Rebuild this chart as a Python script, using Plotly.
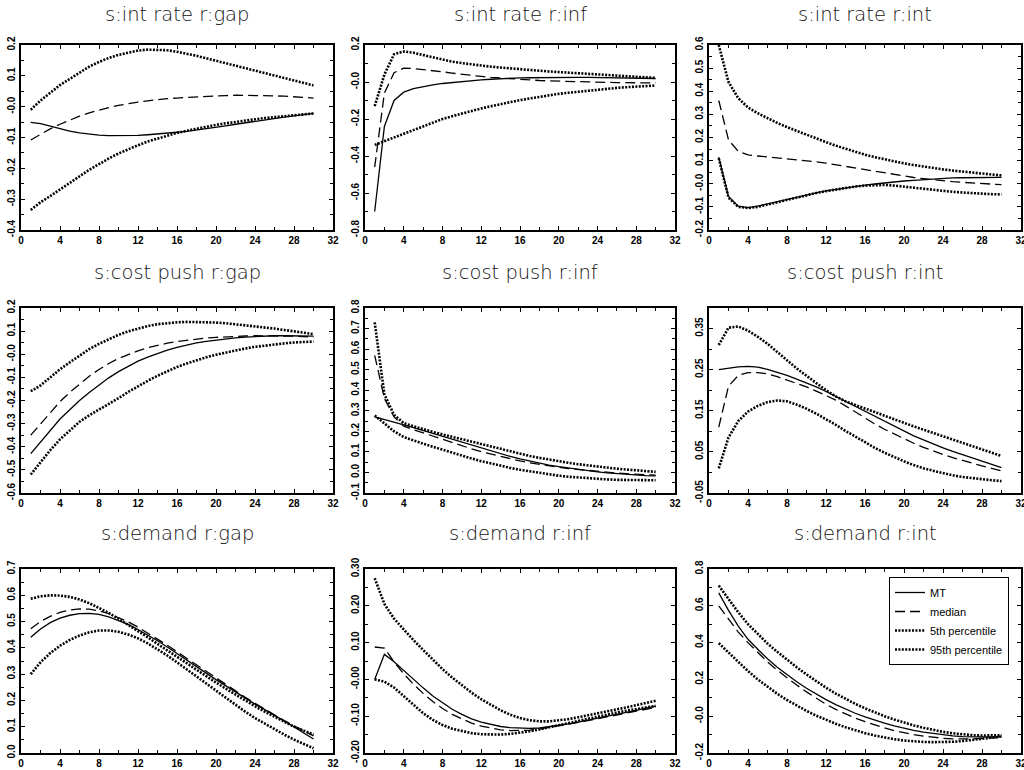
import plotly.graph_objects as go

# ---------------- data ----------------
horizon = list(range(1, 31))

panel_titles = ["s:int rate r:gap", "s:int rate r:inf", "s:int rate r:int",
                "s:cost push r:gap", "s:cost push r:inf", "s:cost push r:int",
                "s:demand r:gap", "s:demand r:inf", "s:demand r:int"]

series_names = ["MT", "median", "5th percentile", "95th percentile"]

# s:int rate r:gap
ir_gap_mt = [-0.051, -0.055, -0.063, -0.072, -0.079, -0.085, -0.089, -0.092, -0.094, -0.094,
             -0.094, -0.093, -0.091, -0.089, -0.086, -0.083, -0.080, -0.076, -0.072, -0.067,
             -0.062, -0.057, -0.052, -0.047, -0.042, -0.038, -0.034, -0.030, -0.026, -0.022]
ir_gap_med = [-0.108, -0.090, -0.072, -0.057, -0.043, -0.031, -0.020, -0.011, -0.003, 0.004,
              0.010, 0.015, 0.019, 0.023, 0.026, 0.028, 0.030, 0.032, 0.034, 0.035,
              0.036, 0.037, 0.037, 0.037, 0.036, 0.035, 0.034, 0.032, 0.030, 0.028]
ir_gap_p5 = [-0.335, -0.310, -0.290, -0.268, -0.247, -0.226, -0.205, -0.186, -0.168, -0.152,
             -0.138, -0.125, -0.113, -0.103, -0.094, -0.085, -0.078, -0.071, -0.065, -0.059,
             -0.054, -0.049, -0.045, -0.041, -0.037, -0.034, -0.031, -0.028, -0.025, -0.022]
ir_gap_p95 = [-0.010, 0.020, 0.045, 0.070, 0.090, 0.110, 0.130, 0.145, 0.158, 0.168,
              0.176, 0.182, 0.185, 0.185, 0.183, 0.178, 0.172, 0.165, 0.157, 0.149,
              0.141, 0.133, 0.125, 0.117, 0.109, 0.101, 0.093, 0.085, 0.077, 0.069]

# s:int rate r:inf
ir_inf_mt = [-0.700, -0.240, -0.100, -0.055, -0.036, -0.024, -0.015, -0.008, -0.002, 0.003,
             0.008, 0.012, 0.015, 0.018, 0.020, 0.022, 0.023, 0.024, 0.025, 0.025,
             0.025, 0.025, 0.025, 0.024, 0.024, 0.023, 0.022, 0.021, 0.020, 0.019]
ir_inf_med = [-0.460, -0.060, 0.050, 0.075, 0.073, 0.068, 0.062, 0.055, 0.048, 0.041,
              0.035, 0.030, 0.025, 0.021, 0.017, 0.013, 0.010, 0.008, 0.006, 0.004,
              0.002, 0.001, 0.000, -0.001, -0.002, -0.003, -0.004, -0.004, -0.005, -0.005]
ir_inf_p5 = [-0.340, -0.320, -0.298, -0.277, -0.257, -0.237, -0.218, -0.200, -0.185, -0.170,
             -0.156, -0.143, -0.131, -0.119, -0.108, -0.098, -0.089, -0.080, -0.072, -0.064,
             -0.058, -0.052, -0.046, -0.041, -0.036, -0.032, -0.028, -0.025, -0.022, -0.019]
ir_inf_p95 = [-0.130, 0.040, 0.150, 0.165, 0.158, 0.145, 0.132, 0.120, 0.110, 0.102,
              0.095, 0.089, 0.083, 0.078, 0.073, 0.069, 0.065, 0.061, 0.057, 0.054,
              0.050, 0.047, 0.044, 0.041, 0.038, 0.035, 0.032, 0.029, 0.026, 0.022]

# s:int rate r:int
ir_int_mt = [0.115, -0.055, -0.097, -0.103, -0.097, -0.087, -0.077, -0.067, -0.057, -0.048,
             -0.039, -0.031, -0.024, -0.017, -0.011, -0.006, -0.001, 0.004, 0.008, 0.012,
             0.015, 0.018, 0.021, 0.023, 0.025, 0.026, 0.027, 0.028, 0.028, 0.028]
ir_int_med = [0.360, 0.190, 0.140, 0.125, 0.120, 0.116, 0.113, 0.109, 0.105, 0.100,
              0.095, 0.089, 0.082, 0.075, 0.068, 0.060, 0.053, 0.046, 0.039, 0.033,
              0.027, 0.022, 0.017, 0.013, 0.009, 0.006, 0.003, 0.000, -0.002, -0.004]
ir_int_p5 = [0.110, -0.060, -0.100, -0.105, -0.100, -0.090, -0.079, -0.068, -0.058, -0.049,
             -0.040, -0.032, -0.025, -0.018, -0.012, -0.008, -0.005, -0.005, -0.008, -0.013,
             -0.018, -0.023, -0.027, -0.031, -0.035, -0.038, -0.041, -0.043, -0.045, -0.046]
ir_int_p95 = [0.600, 0.440, 0.370, 0.330, 0.305, 0.283, 0.263, 0.245, 0.228, 0.211,
              0.195, 0.180, 0.165, 0.151, 0.138, 0.126, 0.115, 0.105, 0.096, 0.088,
              0.081, 0.074, 0.068, 0.062, 0.057, 0.052, 0.048, 0.044, 0.040, 0.036]

# s:cost push r:gap
cp_gap_mt = [-0.430, -0.380, -0.330, -0.280, -0.240, -0.200, -0.165, -0.132, -0.102, -0.075,
             -0.051, -0.030, -0.012, 0.004, 0.018, 0.030, 0.040, 0.049, 0.056, 0.062,
             0.067, 0.071, 0.074, 0.077, 0.079, 0.080, 0.080, 0.080, 0.079, 0.078]
cp_gap_med = [-0.350, -0.300, -0.250, -0.205, -0.165, -0.128, -0.095, -0.066, -0.040, -0.018,
              0.000, 0.015, 0.028, 0.039, 0.048, 0.055, 0.061, 0.066, 0.070, 0.073,
              0.076, 0.078, 0.079, 0.080, 0.080, 0.080, 0.079, 0.078, 0.076, 0.074]
cp_gap_p5 = [-0.520, -0.465, -0.415, -0.368, -0.328, -0.292, -0.264, -0.240, -0.215, -0.190,
             -0.163, -0.138, -0.115, -0.093, -0.073, -0.055, -0.040, -0.026, -0.013, -0.002,
             0.008, 0.017, 0.025, 0.032, 0.038, 0.043, 0.047, 0.051, 0.053, 0.055]
cp_gap_p95 = [-0.160, -0.135, -0.100, -0.065, -0.035, -0.005, 0.022, 0.045, 0.066, 0.084,
              0.099, 0.112, 0.122, 0.130, 0.135, 0.138, 0.140, 0.140, 0.139, 0.137,
              0.134, 0.130, 0.126, 0.121, 0.116, 0.111, 0.105, 0.099, 0.093, 0.087]

# s:cost push r:inf
cp_inf_mt = [0.270, 0.258, 0.245, 0.232, 0.218, 0.204, 0.190, 0.176, 0.161, 0.146,
             0.131, 0.117, 0.103, 0.090, 0.078, 0.066, 0.055, 0.045, 0.036, 0.028,
             0.021, 0.014, 0.008, 0.003, -0.002, -0.006, -0.009, -0.012, -0.015, -0.017]
cp_inf_med = [0.570, 0.360, 0.270, 0.225, 0.208, 0.192, 0.176, 0.160, 0.144, 0.129,
              0.115, 0.101, 0.089, 0.077, 0.066, 0.056, 0.047, 0.039, 0.032, 0.025,
              0.019, 0.014, 0.009, 0.005, 0.001, -0.003, -0.006, -0.009, -0.011, -0.013]
cp_inf_p5 = [0.277, 0.240, 0.200, 0.172, 0.155, 0.140, 0.125, 0.110, 0.096, 0.082,
             0.068, 0.055, 0.043, 0.032, 0.022, 0.013, 0.005, -0.003, -0.010, -0.016,
             -0.021, -0.025, -0.029, -0.032, -0.034, -0.036, -0.037, -0.038, -0.038, -0.038]
cp_inf_p95 = [0.730, 0.380, 0.280, 0.240, 0.225, 0.210, 0.197, 0.185, 0.173, 0.161,
              0.149, 0.137, 0.125, 0.113, 0.101, 0.090, 0.080, 0.071, 0.062, 0.054,
              0.047, 0.040, 0.034, 0.028, 0.023, 0.018, 0.014, 0.010, 0.006, 0.003]

# s:cost push r:int
cp_int_mt = [0.250, 0.254, 0.257, 0.258, 0.256, 0.251, 0.244, 0.236, 0.227, 0.218,
             0.208, 0.197, 0.185, 0.172, 0.159, 0.147, 0.135, 0.123, 0.111, 0.100,
             0.089, 0.079, 0.069, 0.060, 0.051, 0.043, 0.035, 0.027, 0.020, 0.012]
cp_int_med = [0.110, 0.210, 0.236, 0.243, 0.243, 0.240, 0.233, 0.225, 0.217, 0.208,
              0.198, 0.188, 0.176, 0.162, 0.147, 0.132, 0.118, 0.105, 0.093, 0.081,
              0.071, 0.061, 0.052, 0.044, 0.036, 0.029, 0.022, 0.016, 0.010, 0.004]
cp_int_p5 = [0.010, 0.085, 0.125, 0.148, 0.162, 0.171, 0.175, 0.173, 0.165, 0.155,
             0.143, 0.130, 0.116, 0.101, 0.087, 0.073, 0.060, 0.048, 0.037, 0.027,
             0.018, 0.010, 0.004, -0.002, -0.007, -0.011, -0.014, -0.017, -0.019, -0.021]
cp_int_p95 = [0.310, 0.352, 0.355, 0.345, 0.330, 0.313, 0.293, 0.272, 0.253, 0.235,
              0.217, 0.200, 0.185, 0.173, 0.164, 0.156, 0.147, 0.138, 0.129, 0.121,
              0.112, 0.104, 0.096, 0.088, 0.080, 0.072, 0.064, 0.056, 0.048, 0.040]

# s:demand r:gap
dm_gap_mt = [0.440, 0.472, 0.496, 0.513, 0.524, 0.530, 0.531, 0.527, 0.518, 0.505,
             0.489, 0.470, 0.449, 0.427, 0.403, 0.379, 0.354, 0.329, 0.304, 0.279,
             0.255, 0.231, 0.208, 0.186, 0.165, 0.144, 0.122, 0.100, 0.076, 0.053]
dm_gap_med = [0.473, 0.500, 0.520, 0.535, 0.544, 0.548, 0.547, 0.541, 0.530, 0.516,
              0.499, 0.479, 0.457, 0.434, 0.410, 0.385, 0.360, 0.335, 0.310, 0.285,
              0.260, 0.236, 0.212, 0.189, 0.166, 0.144, 0.123, 0.103, 0.083, 0.065]
dm_gap_p5 = [0.300, 0.345, 0.380, 0.408, 0.430, 0.447, 0.459, 0.466, 0.466, 0.461,
             0.451, 0.436, 0.417, 0.395, 0.371, 0.345, 0.318, 0.291, 0.263, 0.235,
             0.208, 0.182, 0.157, 0.133, 0.111, 0.090, 0.070, 0.051, 0.034, 0.018]
dm_gap_p95 = [0.587, 0.596, 0.600, 0.599, 0.594, 0.584, 0.570, 0.553, 0.533, 0.511,
              0.488, 0.464, 0.440, 0.415, 0.390, 0.365, 0.340, 0.316, 0.292, 0.268,
              0.245, 0.222, 0.200, 0.178, 0.157, 0.137, 0.118, 0.100, 0.085, 0.070]

# s:demand r:inf
dm_inf_mt = [0.000, 0.068, 0.048, 0.024, 0.000, -0.023, -0.045, -0.064, -0.081, -0.095,
             -0.107, -0.116, -0.123, -0.128, -0.131, -0.133, -0.133, -0.132, -0.129, -0.125,
             -0.121, -0.116, -0.111, -0.106, -0.100, -0.095, -0.089, -0.084, -0.078, -0.073]
dm_inf_med = [0.088, 0.085, 0.048, 0.015, -0.013, -0.038, -0.060, -0.079, -0.095, -0.108,
              -0.119, -0.127, -0.133, -0.137, -0.139, -0.139, -0.138, -0.135, -0.131, -0.127,
              -0.122, -0.117, -0.112, -0.107, -0.101, -0.096, -0.091, -0.086, -0.081, -0.076]
dm_inf_p5 = [0.000, -0.006, -0.022, -0.045, -0.070, -0.092, -0.110, -0.124, -0.134, -0.141,
             -0.146, -0.149, -0.150, -0.150, -0.148, -0.145, -0.141, -0.136, -0.130, -0.124,
             -0.118, -0.112, -0.106, -0.100, -0.095, -0.090, -0.085, -0.080, -0.076, -0.072]
dm_inf_p95 = [0.275, 0.205, 0.165, 0.135, 0.107, 0.080, 0.053, 0.028, 0.005, -0.016,
              -0.036, -0.054, -0.070, -0.084, -0.096, -0.105, -0.111, -0.114, -0.114, -0.112,
              -0.108, -0.103, -0.098, -0.093, -0.087, -0.082, -0.076, -0.070, -0.064, -0.058]

# s:demand r:int
dm_int_mt = [0.670, 0.575, 0.490, 0.418, 0.364, 0.312, 0.266, 0.225, 0.187, 0.152,
             0.120, 0.090, 0.063, 0.038, 0.016, -0.004, -0.022, -0.038, -0.053, -0.066,
             -0.077, -0.087, -0.095, -0.102, -0.107, -0.111, -0.113, -0.114, -0.113, -0.111]
dm_int_med = [0.600, 0.525, 0.457, 0.400, 0.345, 0.295, 0.250, 0.208, 0.169, 0.132,
              0.097, 0.065, 0.037, 0.012, -0.010, -0.030, -0.048, -0.064, -0.078, -0.090,
              -0.100, -0.108, -0.115, -0.120, -0.123, -0.124, -0.123, -0.121, -0.118, -0.115]
dm_int_p5 = [0.397, 0.345, 0.293, 0.245, 0.200, 0.159, 0.122, 0.088, 0.057, 0.029,
             0.003, -0.020, -0.041, -0.060, -0.077, -0.092, -0.105, -0.116, -0.125, -0.132,
             -0.137, -0.140, -0.141, -0.141, -0.139, -0.135, -0.130, -0.124, -0.117, -0.110]
dm_int_p95 = [0.710, 0.635, 0.565, 0.500, 0.445, 0.395, 0.350, 0.307, 0.266, 0.227,
              0.190, 0.155, 0.123, 0.094, 0.067, 0.043, 0.021, 0.000, -0.018, -0.035,
              -0.050, -0.063, -0.075, -0.085, -0.093, -0.099, -0.103, -0.105, -0.105, -0.103]

panel_series = [
    [ir_gap_mt, ir_gap_med, ir_gap_p5, ir_gap_p95],
    [ir_inf_mt, ir_inf_med, ir_inf_p5, ir_inf_p95],
    [ir_int_mt, ir_int_med, ir_int_p5, ir_int_p95],
    [cp_gap_mt, cp_gap_med, cp_gap_p5, cp_gap_p95],
    [cp_inf_mt, cp_inf_med, cp_inf_p5, cp_inf_p95],
    [cp_int_mt, cp_int_med, cp_int_p5, cp_int_p95],
    [dm_gap_mt, dm_gap_med, dm_gap_p5, dm_gap_p95],
    [dm_inf_mt, dm_inf_med, dm_inf_p5, dm_inf_p95],
    [dm_int_mt, dm_int_med, dm_int_p5, dm_int_p95],
]

# tick labels
x_tickvals = [0, 4, 8, 12, 16, 20, 24, 28, 32]
x_ticktext = ["0", "4", "8", "12", "16", "20", "24", "28", "32"]

y_tickvals = [
    [-0.4, -0.3, -0.2, -0.1, 0.0, 0.1, 0.2],
    [-0.8, -0.6, -0.4, -0.2, 0.0, 0.2],
    [-0.2, -0.1, 0.0, 0.1, 0.2, 0.3, 0.4, 0.5, 0.6],
    [-0.6, -0.5, -0.4, -0.3, -0.2, -0.1, 0.0, 0.1, 0.2],
    [-0.1, 0.0, 0.1, 0.2, 0.3, 0.4, 0.5, 0.6, 0.7, 0.8],
    [-0.05, 0.05, 0.15, 0.25, 0.35],
    [0.0, 0.1, 0.2, 0.3, 0.4, 0.5, 0.6, 0.7],
    [-0.2, -0.1, 0.0, 0.1, 0.2, 0.3],
    [-0.2, 0.0, 0.2, 0.4, 0.6, 0.8],
]
y_ticktext = [
    ["-0.4", "-0.3", "-0.2", "-0.1", "-0.0", "0.1", "0.2"],
    ["-0.8", "-0.6", "-0.4", "-0.2", "-0.0", "0.2"],
    ["-0.2", "-0.1", "-0.0", "0.1", "0.2", "0.3", "0.4", "0.5", "0.6"],
    ["-0.6", "-0.5", "-0.4", "-0.3", "-0.2", "-0.1", "-0.0", "0.1", "0.2"],
    ["-0.1", "0.0", "0.1", "0.2", "0.3", "0.4", "0.5", "0.6", "0.7", "0.8"],
    ["-0.05", "0.05", "0.15", "0.25", "0.35"],
    ["0.0", "0.1", "0.2", "0.3", "0.4", "0.5", "0.6", "0.7"],
    ["-0.20", "-0.10", "-0.00", "0.10", "0.20", "0.30"],
    ["-0.2", "-0.0", "0.2", "0.4", "0.6", "0.8"],
]
y_ranges = [[-0.4, 0.2], [-0.8, 0.2], [-0.2, 0.6], [-0.6, 0.2], [-0.1, 0.8],
            [-0.05, 0.40], [0.0, 0.7], [-0.2, 0.3], [-0.2, 0.8]]
y_minor = [0.05, 0.1, 0.05, 0.05, 0.05, 0.05, 0.05, 0.05, 0.1]

# ---------------- layout geometry ----------------
W, H = 1024, 770
col_px = [(21, 333), (365, 675), (709, 1021)]
row_px = [(45, 230), (308, 493), (569, 753)]
title_px = [15, 273, 533]


def fx(p):
    return p / W


def fy(p):
    return 1 - p / H


styles = [
    dict(color="black", width=1.3, dash="solid"),
    dict(color="black", width=1.3, dash="10px,5px"),
    dict(color="black", width=2.6, dash="2px,1.4px"),
    dict(color="black", width=2.6, dash="2px,1.4px"),
]

fig = go.Figure()
layout = dict(width=W, height=H,
              margin=dict(l=0, r=0, t=0, b=0, pad=0, autoexpand=False),
              paper_bgcolor="white", plot_bgcolor="white", annotations=[])

tick_font = dict(family="Liberation Sans, Arial, sans-serif", size=10, color="black", weight="bold")

for i in range(9):
    r, c = divmod(i, 3)
    n = i + 1
    xa = "x" if n == 1 else f"x{n}"
    ya = "y" if n == 1 else f"y{n}"
    for s in range(4):
        fig.add_trace(go.Scatter(
            x=horizon, y=panel_series[i][s], mode="lines", name=series_names[s],
            line=styles[s], xaxis=xa, yaxis=ya, showlegend=(i == 8),
            hoverinfo="skip"))
    x0, x1 = col_px[c]
    y0, y1 = row_px[r]
    layout[f"xaxis{'' if n == 1 else n}"] = dict(
        domain=[fx(x0), fx(x1)], anchor=ya, range=[0, 32], automargin=False,
        tickvals=x_tickvals, ticktext=x_ticktext, tickfont=tick_font,
        ticklabeloverflow="allow",
        ticks="inside", ticklen=4, tickwidth=1, tickcolor="black",
        minor=dict(dtick=2, tick0=0, ticks="inside", ticklen=3, tickcolor="black"),
        showline=True, linewidth=2, linecolor="black", mirror="allticks",
        showgrid=False, zeroline=False, fixedrange=True)
    layout[f"yaxis{'' if n == 1 else n}"] = dict(
        domain=[fy(y1), fy(y0)], anchor=xa, range=y_ranges[i], automargin=False,
        tickvals=y_tickvals[i], ticktext=y_ticktext[i], tickfont=tick_font,
        tickangle=-90, ticklabeloverflow="allow",
        ticks="inside", ticklen=4, tickwidth=1, tickcolor="black",
        minor=dict(dtick=y_minor[i], tick0=0, ticks="inside", ticklen=3, tickcolor="black"),
        showline=True, linewidth=2, linecolor="black", mirror="allticks",
        showgrid=False, zeroline=False, fixedrange=True)
    layout["annotations"].append(dict(
        text=panel_titles[i], xref="paper", yref="paper",
        x=fx((x0 + x1) / 2), y=fy(title_px[r]), xanchor="center", yanchor="middle",
        showarrow=False,
        font=dict(family="DejaVu Sans, sans-serif", size=19.5, color="#111", weight=300)))

layout["legend"] = dict(
    x=fx(889), y=fy(577), xanchor="left", yanchor="top",
    bgcolor="white", bordercolor="black", borderwidth=1,
    font=dict(family="Liberation Sans, Arial, sans-serif", size=11, color="black"),
    itemwidth=30, tracegroupgap=0)

fig.update_layout(**layout)
# remove the browser's default 8px page margin so the figure sits at the window's corner
fig.write_html("out.html",
               config={"displayModeBar": False, "staticPlot": True},
               post_script="document.body.style.margin='0px';document.body.style.overflow='hidden';")
